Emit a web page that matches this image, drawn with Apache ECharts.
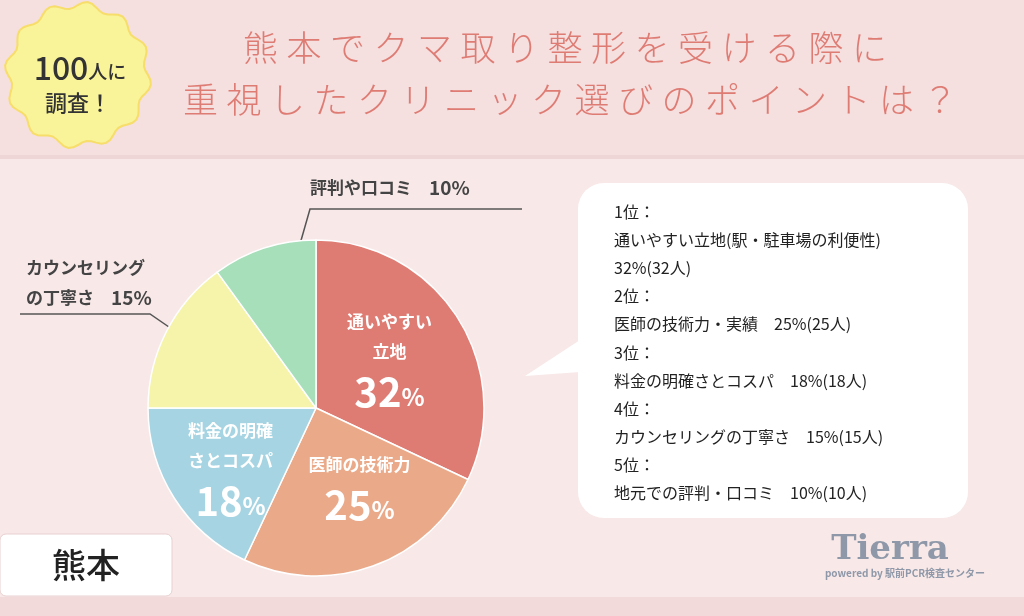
<!DOCTYPE html>
<html><head><meta charset="utf-8">
<script src="https://cdn.jsdelivr.net/npm/echarts@6/dist/echarts.min.js"></script>
<style>html,body{margin:0;padding:0;background:#f8e8e8}#c{width:1024px;height:616px}</style>
</head><body><div id="c"></div>
<script>
const names = ['通いやすい立地', '医師の技術力', '料金の明確さとコスパ', 'カウンセリングの丁寧さ', '評判や口コミ'];
const values = [32, 25, 18, 15, 10];
const colors = ['#de7c74', '#eaaa8a', '#a7d4e2', '#f6f4aa', '#a7dfba'];
const innerLines = [['通いやすい', '立地'], ['医師の技術力'], ['料金の明確', 'さとコスパ'], null, null];
const titleLines = ['熊本でクマ取り整形を受ける際に', '重視したクリニック選びのポイントは？'];
const rankText = [
  '1位：', '通いやすい立地(駅・駐車場の利便性)', '32%(32人)',
  '2位：', '医師の技術力・実績　25%(25人)',
  '3位：', '料金の明確さとコスパ　18%(18人)',
  '4位：', 'カウンセリングの丁寧さ　15%(15人)',
  '5位：', '地元での評判・口コミ　10%(10人)'
];
const font = '"Noto Sans CJK JP", sans-serif';
const chart = echarts.init(document.getElementById('c'));

// yellow badge
const badge = [];
for (let i = 0; i <= 96; i++) {
  const a = i / 96 * Math.PI * 2;
  const r = 70 + 3.5 * Math.sin(a * 12);
  badge.push([78 + r * Math.cos(a), 75 + r * Math.sin(a)]);
}

const graphic = [
  { type: 'rect', shape: { x: 0, y: 0, width: 1024, height: 155 }, style: { fill: '#f5dfdf' }, z: -10 },
  { type: 'rect', shape: { x: 0, y: 155, width: 1024, height: 4 }, style: { fill: '#efd6d6' }, z: -10 },
  { type: 'rect', shape: { x: 0, y: 597, width: 1024, height: 19 }, style: { fill: '#f3dada' }, z: -10 },
  { type: 'polygon', shape: { points: badge }, style: { fill: '#f9f39a', stroke: '#f7dd6a', lineWidth: 2 } },
  { type: 'text', x: 80, y: 68, style: { text: '100{s|人に}', font: '500 32px ' + font, fill: '#333', align: 'center', verticalAlign: 'middle', rich: { s: { font: '500 19px ' + font, fill: '#333', padding: [8, 0, 0, 0] } } } },
  { type: 'text', x: 78, y: 103, style: { text: '調査！', font: '500 22px ' + font, fill: '#333', align: 'center', verticalAlign: 'middle' } },
  // bubble
  { type: 'rect', shape: { x: 578, y: 183, width: 390, height: 335, r: 26 }, style: { fill: '#fff' } },
  { type: 'polygon', shape: { points: [[580, 340], [525, 376], [580, 372]] }, style: { fill: '#fff' } },
  // 熊本 box
  { type: 'rect', shape: { x: 0, y: 534, width: 172, height: 62, r: 6 }, style: { fill: '#fff', stroke: '#e8d0d0' } },
  { type: 'text', x: 86, y: 565, style: { text: '熊本', font: '500 34px ' + font, fill: '#222', align: 'center', verticalAlign: 'middle' } },
  // logo
  { type: 'text', x: 890, y: 550, style: { text: 'Tierra', font: 'bold 34px "DejaVu Serif", serif', fill: '#8e98a8', align: 'center', verticalAlign: 'middle' } },
  { type: 'text', x: 905, y: 573, style: { text: 'powered by 駅前PCR検査センター', font: '600 10px ' + font, fill: '#8e98a8', align: 'center', verticalAlign: 'middle' } },
  // outside label lines
  { type: 'polyline', shape: { points: [[300, 244], [310, 209], [522, 209]] }, style: { stroke: '#555', lineWidth: 1.5 } },
  { type: 'polyline', shape: { points: [[182, 336], [150, 314], [20, 314]] }, style: { stroke: '#555', lineWidth: 1.5 } },
  { type: 'text', x: 310, y: 188, style: { text: names[4] + '　{p|' + values[4] + '%}', font: '600 17px ' + font, fill: '#444', verticalAlign: 'middle', rich: { p: { font: '600 19px ' + font, fill: '#444' } } } },
  { type: 'text', x: 26, y: 268, style: { text: 'カウンセリング', font: '600 17px ' + font, fill: '#444', verticalAlign: 'middle' } },
  { type: 'text', x: 26, y: 298, style: { text: 'の丁寧さ　{p|' + values[3] + '%}', font: '600 17px ' + font, fill: '#444', verticalAlign: 'middle', rich: { p: { font: '600 19px ' + font, fill: '#444' } } } }
];
// spaced-out title, one glyph at a time
[[titleLines[0], 243, 48], [titleLines[1], 183, 100]].forEach(([line, x0, y]) => {
  Array.from(line).forEach((ch, i) => {
    graphic.push({ type: 'text', x: x0 + i * 43.5, y, style: { text: ch, font: '300 35px ' + font, fill: '#de7c74', verticalAlign: 'middle' } });
  });
});
rankText.forEach((t, i) => {
  graphic.push({ type: 'text', x: 614, y: 212 + i * 28.1, style: { text: t, font: '16px ' + font, fill: '#222', verticalAlign: 'middle' } });
});

chart.setOption({
  backgroundColor: '#f8e8e8',
  graphic,
  series: [{
    type: 'pie',
    center: [316, 408],
    radius: [0, 168],
    startAngle: 90,
    clockwise: true,
    silent: true,
    itemStyle: { borderColor: '#fff', borderWidth: 1.5 },
    labelLine: { show: false },
    labelLayout: p => p.dataIndex === 2 ? { dx: -12, dy: 16 } : (p.dataIndex === 1 ? { dx: 14, dy: 0 } : {}),
    data: values.map((v, i) => ({
      name: names[i], value: v,
      itemStyle: { color: colors[i] },
      label: innerLines[i] ? {
        show: true, position: 'inside', fontFamily: font, color: '#fff',
        formatter: innerLines[i].map(l => '{t|' + l + '}').join('\n') + '\n{n|' + v + '}{p|%}',
        rich: {
          t: { fontSize: 17, fontWeight: 600, color: '#fff', lineHeight: 30, fontFamily: font },
          n: { fontSize: 40, fontWeight: 'bold', color: '#fff', lineHeight: 50, fontFamily: font },
          p: { fontSize: 24, fontWeight: 'bold', color: '#fff', fontFamily: font, padding: [10, 0, 0, 0] }
        }
      } : { show: false }
    }))
  }]
});
</script></body></html>
